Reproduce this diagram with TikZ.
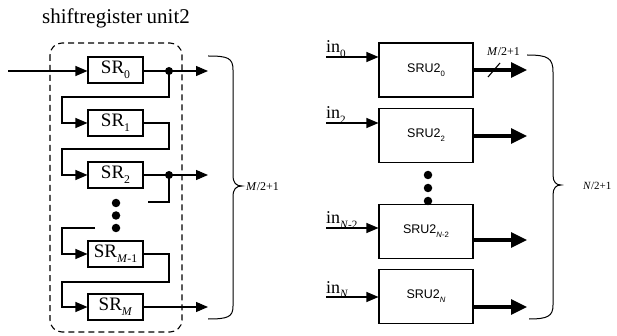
\documentclass[tikz,border=0pt]{standalone}
\usepackage{fontspec}
\setmainfont{Liberation Serif}
\newfontfamily\sansf{Liberation Sans}
\usetikzlibrary{arrows.meta}
\newcommand{\lsub}[1]{\raisebox{-0.6ex}{\scalebox{0.62}{#1}}}
\begin{document}
\begin{tikzpicture}[x=1pt,y=-1pt,
  srbox/.style={draw,line width=1.1pt,minimum width=55pt,minimum height=26pt,inner sep=0pt,font=\fontsize{19}{19}\selectfont},
  srubox/.style={draw,line width=1.1pt,minimum width=94pt,minimum height=54pt,inner sep=0pt,font=\sansf\fontsize{12.5}{12.5}\selectfont},
  wire/.style={line width=1.1pt},
  arr/.style={wire,-{Triangle[length=12pt,width=10pt]}},
  bigarr/.style={line width=3.2pt,-{Triangle[length=16pt,width=15pt]}},
  jdot/.style={circle,fill,inner sep=0pt,minimum size=8pt},
  vdot/.style={circle,fill,inner sep=0pt,minimum size=8.5pt},
  lbl/.style={inner sep=0pt,font=\fontsize{18}{18}\selectfont},
  brace/.style={line width=1pt},
  frame/.style={dashed,dash pattern=on 6pt off 4pt,line width=1.1pt,rounded corners=12pt}
]
\useasboundingbox (0,0) rectangle (617,336);

% title and frame
\node[inner sep=0pt,font=\fontsize{21}{21}\selectfont] (title) at (116,18) {shiftregister\kern-1pt\ unit2};
\draw[frame] (50,43) rectangle (182,332);

% shift registers
\node[srbox] (sr0) at (115.5,70) {SR\lsub{0}};
\node[srbox] (sr1) at (115.5,123) {SR\lsub{1}};
\node[srbox] (sr2) at (115.5,175) {SR\lsub{2}};
\node[srbox] (srm1) at (115.5,254) {SR\lsub{\textit{M}-1}};
\node[srbox] (srm) at (115.5,307) {SR\lsub{\textit{M}}};

\coordinate (inL) at (8,71);
\node[jdot] (d0) at (169,71) {};
\node[jdot] (d2) at (169,175) {};
\coordinate (o0) at (208,71);
\coordinate (o2) at (208,175);
\coordinate (om) at (208,307);
\coordinate (cut) at (148,202);
\coordinate (resume) at (95,228);

\node[vdot] (v1) at (116,203) {};
\node[vdot] (v2) at (116,215.5) {};
\node[vdot] (v3) at (116,228) {};

\draw[arr] (inL) -- (inL -| sr0.west);
\draw[wire] (sr0.east |- d0) -- (d0.center);
\draw[arr] (d0.center) -- (o0);
\draw[arr] (d0.center) |- (62,97) |- (sr1.west);
\draw[arr] (sr1.east) -| (169,149) -| (62,160) |- (sr2.west);
\draw[wire] (sr2.east) -- (d2.center);
\draw[arr] (d2.center) -- (o2);
\draw[wire] (d2.center) |- (cut);
\draw[arr] (resume) -| (62,240) |- (srm1.west);
\draw[arr] (srm1.east) -| (169,282) -| (62,295) |- (srm.west);
\draw[arr] (srm.east) -- (om);

% left brace
\draw[brace] (208,56) .. controls (228,56) and (233,58) .. (233,70) -- (233,175)
  .. controls (233,183) and (236,186) .. (242,186)
  .. controls (236,186) and (233,189) .. (233,197) -- (233,306)
  .. controls (233,317) and (228,319) .. (208,319);
\node[anchor=west,inner sep=0pt,font=\fontsize{12}{12}\selectfont] (lm) at (246,187) {\textit{M}/2+1};

% right side units
\node[srubox] (u0) at (426,70) {SRU2\lsub{0}};
\node[srubox] (u2) at (426,135.5) {SRU2\lsub{2}};
\node[srubox] (un2) at (426,231.5) {SRU2\lsub{\textit{N}-2}};
\node[srubox] (un) at (426,296.5) {SRU2\lsub{\textit{N}}};

\coordinate (i0) at (326,57);
\coordinate (i2) at (326,123);
\coordinate (in2) at (326,228);
\coordinate (inn) at (326,297);
\draw[arr] (i0) -- (i0 -| u0.west);
\draw[arr] (i2) -- (i2 -| u2.west);
\draw[arr] (in2) -- (in2 -| un2.west);
\draw[arr] (inn) -- (inn -| un.west);
\node[lbl,anchor=base west] (t0) at ([yshift=4pt]i0) {in\lsub{0}};
\node[lbl,anchor=base west] (t2) at ([yshift=4pt]i2) {in\lsub{2}};
\node[lbl,anchor=base west] (tn2) at ([yshift=4pt]in2) {in\lsub{\textit{N}-2}};
\node[lbl,anchor=base west] (tn) at ([yshift=4pt]inn) {in\lsub{\textit{N}}};

\coordinate (q0) at (527,70);
\coordinate (q2) at (527,136);
\coordinate (qn2) at (527,240);
\coordinate (qn) at (527,307);
\draw[bigarr] (u0.east |- q0) -- (q0);
\draw[bigarr] (u2.east |- q2) -- (q2);
\draw[bigarr] (un2.east |- qn2) -- (qn2);
\draw[bigarr] (un.east |- qn) -- (qn);
\draw[line width=1.1pt] (488,77) -- (500,63);
\node[anchor=base west,inner sep=0pt,font=\fontsize{12}{12}\selectfont] (lm2) at (487,56) {\textit{M}/2+1};

\node[vdot] (w1) at (428,175) {};
\node[vdot] (w2) at (428,188) {};
\node[vdot] (w3) at (428,201) {};

% right brace
\draw[brace] (527,55) .. controls (548,55) and (553,58) .. (553,72) -- (553,175)
  .. controls (553,182) and (556,185) .. (561,185)
  .. controls (556,185) and (553,188) .. (553,195) -- (553,305)
  .. controls (553,316) and (548,319) .. (529,319);
\node[anchor=west,inner sep=0pt,font=\fontsize{11}{11}\selectfont] (ln) at (583,186) {\textit{N}/2+1};
\end{tikzpicture}
\end{document}
